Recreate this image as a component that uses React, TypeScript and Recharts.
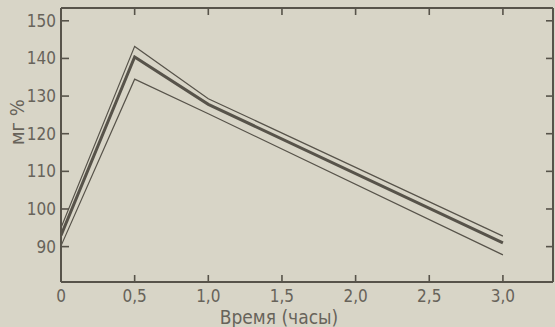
import React from 'react';
import { LineChart, Line, XAxis, YAxis } from 'recharts';

// time in hours
const hours = [0, 0.5, 1.0, 3.0];
// mg % curves (upper bound, mean, lower bound)
const upper = [95, 143.2, 129.3, 92.8];
const mean = [93, 140.4, 127.8, 91];
const lower = [90.2, 134.5, 125.3, 87.8];

const xTicks = [0, 0.5, 1.0, 1.5, 2.0, 2.5, 3.0];
const yTicks = [90, 100, 110, 120, 130, 140, 150];

const data = hours.map((h, i) => ({ h, upper: upper[i], mean: mean[i], lower: lower[i] }));

const ink = '#57534a';
const textInk = '#67635a';
const font = '"DejaVu Sans Condensed", "DejaVu Sans", sans-serif';
const TICK = 7;

const fmtX = (v: number) => (v === 0 ? '0' : v.toFixed(1).replace('.', ','));

// ticks point inward, into the plot (tickSize/tickMargin are 0, so x/y sit on the axis line)
const BottomTick = (p: any) => (
  <g>
    <line x1={p.x} y1={p.y} x2={p.x} y2={p.y - TICK} stroke={ink} strokeWidth={1.6} />
    <text x={p.x} y={p.y + 20} textAnchor="middle" fill={textInk} fontSize={17} fontFamily={font}>
      {fmtX(p.payload.value)}
    </text>
  </g>
);
const TopTick = (p: any) => (
  <line x1={p.x} y1={p.y} x2={p.x} y2={p.y + TICK} stroke={ink} strokeWidth={1.6} />
);
const LeftTick = (p: any) => (
  <g>
    <line x1={p.x} y1={p.y} x2={p.x + TICK + 1} y2={p.y} stroke={ink} strokeWidth={1.6} />
    <text x={p.x - 5} y={p.y + 6} textAnchor="end" fill={textInk} fontSize={17} fontFamily={font}>
      {p.payload.value}
    </text>
  </g>
);
const RightTick = (p: any) => (
  <line x1={p.x} y1={p.y} x2={p.x - TICK} y2={p.y} stroke={ink} strokeWidth={1.6} />
);

const App: React.FC = () => {
  return (
    <div style={{ position: 'absolute', left: 0, top: 0, width: 555, height: 327, background: '#d8d5c7' }}>
      <LineChart width={555} height={327} data={data} margin={{ top: 7, right: 1, left: 0, bottom: 0 }}>
        <XAxis
          xAxisId="b"
          dataKey="h"
          type="number"
          domain={[0, 3.34]}
          ticks={xTicks}
          allowDataOverflow
          height={45}
          tickSize={0}
          tickMargin={0}
          tickLine={false}
          tick={(p: any) => <BottomTick {...p} />}
          stroke={ink}
          strokeWidth={2}
          label={{ value: 'Время (часы)', position: 'insideBottom', offset: 3, dx: -28, fill: textInk, fontSize: 19, fontFamily: font }}
        />
        <XAxis
          xAxisId="t"
          orientation="top"
          dataKey="h"
          type="number"
          domain={[0, 3.34]}
          ticks={xTicks}
          allowDataOverflow
          height={1}
          tickSize={0}
          tickMargin={0}
          tickLine={false}
          tick={(p: any) => <TopTick {...p} />}
          stroke={ink}
          strokeWidth={2}
        />
        <YAxis
          yAxisId="l"
          type="number"
          domain={[80.6, 153.4]}
          ticks={yTicks}
          allowDataOverflow
          width={61}
          tickSize={0}
          tickMargin={0}
          tickLine={false}
          tick={(p: any) => <LeftTick {...p} />}
          stroke={ink}
          strokeWidth={2}
          label={{ value: 'мг %', angle: -90, position: 'insideLeft', offset: 17, dy: 0, fill: textInk, fontSize: 20, fontFamily: font }}
        />
        <YAxis
          yAxisId="r"
          orientation="right"
          type="number"
          domain={[80.6, 153.4]}
          ticks={yTicks}
          allowDataOverflow
          width={1}
          tickSize={0}
          tickMargin={0}
          tickLine={false}
          tick={(p: any) => <RightTick {...p} />}
          stroke={ink}
          strokeWidth={2}
        />
        {/* hidden series so the top and right frame axes get drawn */}
        <Line xAxisId="t" yAxisId="r" dataKey="mean" stroke={ink} strokeOpacity={0} dot={false} activeDot={false} isAnimationActive={false} />
        <Line xAxisId="b" yAxisId="l" dataKey="upper" stroke={ink} strokeWidth={1.2} dot={false} isAnimationActive={false} />
        <Line xAxisId="b" yAxisId="l" dataKey="mean" stroke={ink} strokeWidth={3} dot={false} isAnimationActive={false} />
        <Line xAxisId="b" yAxisId="l" dataKey="lower" stroke={ink} strokeWidth={1.2} dot={false} isAnimationActive={false} />
      </LineChart>
    </div>
  );
};

export default App;
